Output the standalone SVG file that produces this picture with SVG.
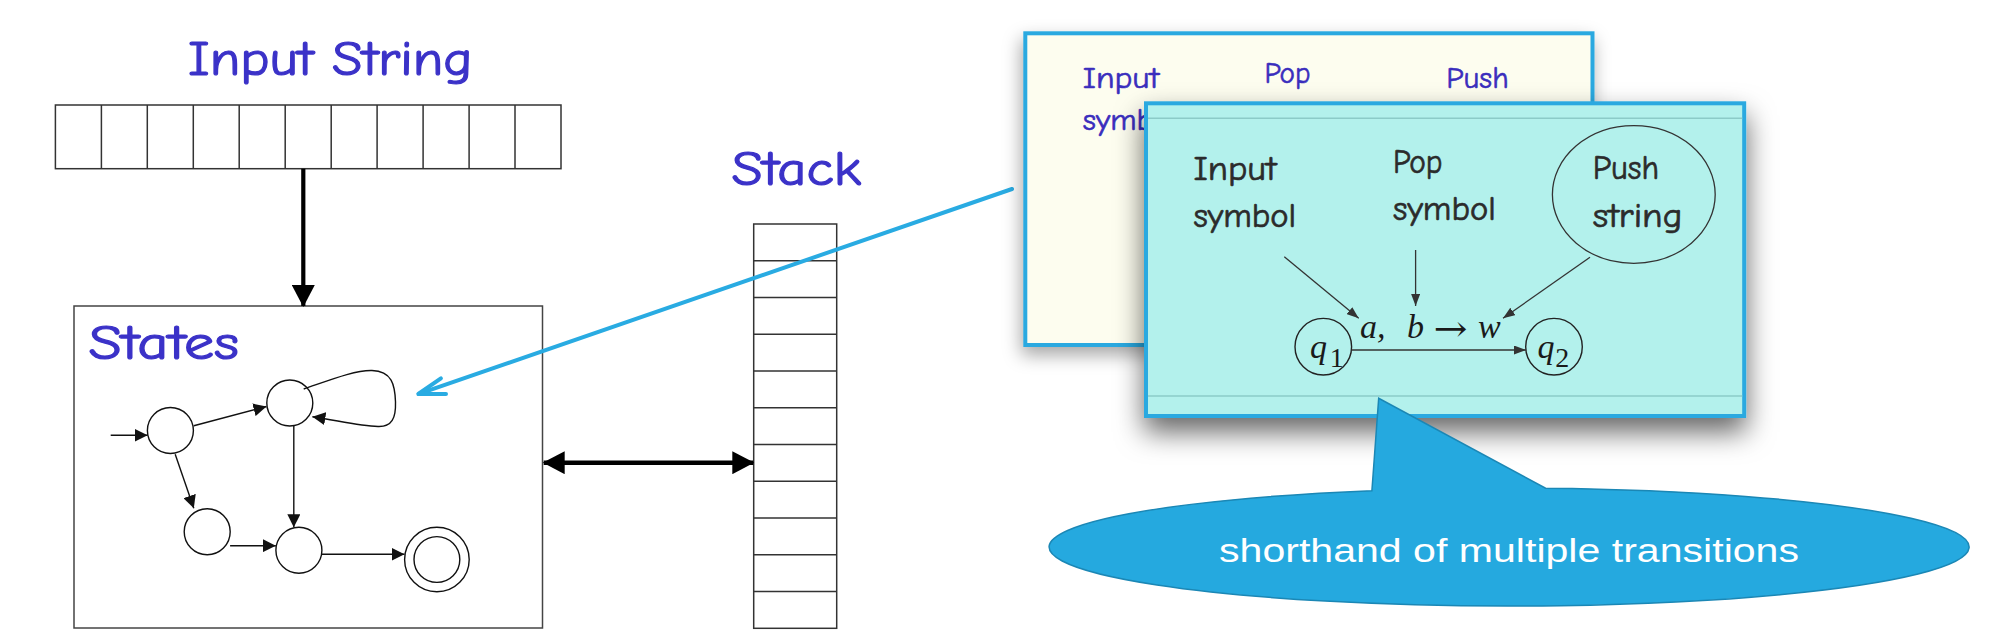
<svg xmlns="http://www.w3.org/2000/svg" width="2009" height="638" viewBox="0 0 2009 638">
<style>
.hd{font-family:"Comic Sans MS","Comic Neue","DejaVu Sans",sans-serif;fill:#3b32c8;stroke:#3b32c8;stroke-width:1.2px;font-size:49px}
.bk{font-family:"Comic Sans MS","Comic Neue","DejaVu Sans",sans-serif;fill:#3a2dbd;stroke:#3a2dbd;stroke-width:0.6px;font-size:30px}
.ft{font-family:"Comic Sans MS","Comic Neue","DejaVu Sans",sans-serif;fill:#2b2b2b;stroke:#2b2b2b;stroke-width:0.7px;font-size:34px}
.mt{font-family:"Liberation Serif","Times New Roman",serif;fill:#1a1a1a;font-size:34px}
.cell{fill:#fff;stroke:#333;stroke-width:1.5}
.ln{stroke:#333;stroke-width:1.5;fill:none}
.st{fill:#fff;stroke:#111;stroke-width:1.4}
.ed{stroke:#111;stroke-width:1.4;fill:none;marker-end:url(#mThin)}
.fe{stroke:#333;stroke-width:1.3;fill:none;marker-end:url(#mSmall)}
</style>
<defs>
<marker id="mThin" markerUnits="userSpaceOnUse" markerWidth="13" markerHeight="13" refX="13" refY="6.5" orient="auto"><path d="M0,0 L13,6.5 L0,13 z" fill="#111"/></marker>
<marker id="mThick" markerUnits="userSpaceOnUse" markerWidth="22" markerHeight="23" refX="21" refY="11.5" orient="auto-start-reverse"><path d="M0,0 L22,11.5 L0,23 z" fill="#000"/></marker>
<marker id="mSmall" markerUnits="userSpaceOnUse" markerWidth="12" markerHeight="9" refX="12" refY="4.5" orient="auto"><path d="M0,0 L12,4.5 L0,9 z" fill="#333"/></marker>
<filter id="shB" x="-10%" y="-10%" width="125%" height="130%"><feDropShadow dx="-2" dy="8" stdDeviation="9" flood-color="#000" flood-opacity="0.35"/></filter>
<filter id="shF" x="-10%" y="-10%" width="125%" height="140%"><feDropShadow dx="0" dy="14" stdDeviation="14" flood-color="#000" flood-opacity="0.6"/></filter>
</defs>

<rect width="2009" height="638" fill="#fff"/>

<g id="input-string">
<text class="hd" x="188" y="75" textLength="284.5" lengthAdjust="spacingAndGlyphs">Input String</text>
<rect class="cell" x="55.4" y="105" width="505.6" height="63.7"/>
<path class="ln" d="M101.4,105V168.7M147.3,105V168.7M193.3,105V168.7M239.2,105V168.7M285.2,105V168.7M331.2,105V168.7M377.1,105V168.7M423.1,105V168.7M469.1,105V168.7M515,105V168.7"/>
</g>

<g id="states">
<rect x="74" y="306" width="468.5" height="322" fill="#fff" stroke="#444" stroke-width="1.5"/>
<text class="hd" x="88.6" y="359.3" textLength="150.6" lengthAdjust="spacingAndGlyphs">States</text>
<circle class="st" cx="170.4" cy="430.5" r="23"/>
<circle class="st" cx="289.8" cy="403" r="23"/>
<circle class="st" cx="207.2" cy="531.8" r="23"/>
<circle class="st" cx="298.9" cy="550.3" r="23"/>
<circle class="st" cx="436.9" cy="559.5" r="32.3"/>
<circle class="st" cx="436.9" cy="559.5" r="22.9"/>
<path class="ed" d="M110.7,435.3 L147.6,435.3"/>
<path class="ed" d="M193.8,425.7 L266.5,406.5"/>
<path class="ed" d="M175.2,454.3 L193.8,508.3"/>
<path class="ed" d="M293.8,426 L293.8,527.3"/>
<path class="ed" d="M230.1,545.7 L275.8,545.7"/>
<path class="ed" d="M321.9,554.3 L404.5,554.3"/>
<path class="ed" d="M303.7,389 C330,380 355,370 372,370.5 C392,371 395,385 395.5,402 C396,418 392,427 378,426.5 C360,426 340,421 312.4,416.7"/>
</g>

<g id="stack">
<text class="hd" x="731.6" y="185" textLength="129.4" lengthAdjust="spacingAndGlyphs">Stack</text>
<rect class="cell" x="753.7" y="224" width="83" height="404.3"/>
<path class="ln" d="M753.7,260.75H836.7M753.7,297.5H836.7M753.7,334.25H836.7M753.7,371H836.7M753.7,407.75H836.7M753.7,444.5H836.7M753.7,481.25H836.7M753.7,518H836.7M753.7,554.75H836.7M753.7,591.5H836.7"/>
</g>

<g id="connectors">
<path d="M303.3,168.7 L303.3,306" stroke="#000" stroke-width="4.2" fill="none" marker-end="url(#mThick)"/>
<path d="M543.7,462.7 L753.3,462.7" stroke="#000" stroke-width="4.6" fill="none" marker-start="url(#mThick)" marker-end="url(#mThick)"/>
<path d="M1012,189 L419.5,393.6" stroke="#29abe2" stroke-width="4" fill="none" stroke-linecap="round"/>
<polyline points="440.9,378.3 418.3,394 446,394" stroke="#29abe2" stroke-width="4" fill="none" stroke-linecap="round" stroke-linejoin="round"/>
</g>

<g id="back-panel">
<rect x="1025.3" y="33.3" width="567.2" height="311.7" fill="#fdfdef" stroke="#29a9e0" stroke-width="4" filter="url(#shB)"/>
<text class="bk" x="1082.7" y="88.3" textLength="76.5" lengthAdjust="spacingAndGlyphs">Input</text>
<text class="bk" x="1082.7" y="130" textLength="94.7" lengthAdjust="spacingAndGlyphs">symbol</text>
<text class="bk" x="1264.5" y="83.3" textLength="45.9" lengthAdjust="spacingAndGlyphs">Pop</text>
<text class="bk" x="1446.3" y="88.3" textLength="62.4" lengthAdjust="spacingAndGlyphs">Push</text>
</g>

<g id="front-panel">
<rect x="1146" y="103.3" width="598.2" height="312.7" fill="#b3f1ec" stroke="#29a9e0" stroke-width="4" filter="url(#shF)"/>
<path d="M1148,118.3H1742.2M1148,396H1742.2" stroke="#8ccbc8" stroke-width="1.5"/>
<text class="ft" x="1193.4" y="180" textLength="83" lengthAdjust="spacingAndGlyphs">Input</text>
<text class="ft" x="1193.4" y="226.7" textLength="102.8" lengthAdjust="spacingAndGlyphs">symbol</text>
<text class="ft" x="1393" y="173.3" textLength="49.4" lengthAdjust="spacingAndGlyphs">Pop</text>
<text class="ft" x="1393" y="220" textLength="102.8" lengthAdjust="spacingAndGlyphs">symbol</text>
<ellipse cx="1633.8" cy="194.5" rx="81.4" ry="68.8" fill="none" stroke="#333" stroke-width="1.3"/>
<text class="ft" x="1592.7" y="179.3" textLength="66.4" lengthAdjust="spacingAndGlyphs">Push</text>
<text class="ft" x="1592.7" y="226.7" textLength="89.8" lengthAdjust="spacingAndGlyphs">string</text>
<path class="fe" d="M1284.3,256.7 L1358.7,318.3"/>
<path class="fe" d="M1415.6,250 L1415.6,306"/>
<path class="fe" d="M1590,257.3 L1503,318.3"/>
<circle cx="1323.3" cy="346.7" r="28.3" fill="none" stroke="#222" stroke-width="1.4"/>
<circle cx="1554" cy="346.7" r="28.3" fill="none" stroke="#222" stroke-width="1.4"/>
<path class="fe" d="M1351.6,350 L1526,350"/>
<text class="mt" y="338.3" font-style="italic"><tspan x="1360">a,</tspan><tspan x="1407">b</tspan><tspan x="1478">w</tspan></text>
<text x="1433.5" y="341" font-family="DejaVu Serif, serif" font-size="36" fill="#1a1a1a" textLength="34" lengthAdjust="spacingAndGlyphs">→</text>
<text class="mt" y="358.3"><tspan x="1310" font-style="italic">q</tspan><tspan x="1329.8" y="366.7" font-size="28">1</tspan></text>
<text class="mt" y="358.3"><tspan x="1537.4" font-style="italic">q</tspan><tspan x="1555.2" y="366.7" font-size="28">2</tspan></text>
</g>

<g id="callout">
<path d="M1371.9,490.7 L1378.7,398.3 L1545.6,488.2 A460,59 0 1 1 1371.9,490.7 Z" fill="#25a9df" stroke="#1b87b5" stroke-width="1.5"/>
<text x="1509" y="561.7" text-anchor="middle" font-family="Liberation Sans, Arial, sans-serif" font-size="34" fill="#fff" textLength="580" lengthAdjust="spacingAndGlyphs">shorthand of multiple transitions</text>
</g>
</svg>
